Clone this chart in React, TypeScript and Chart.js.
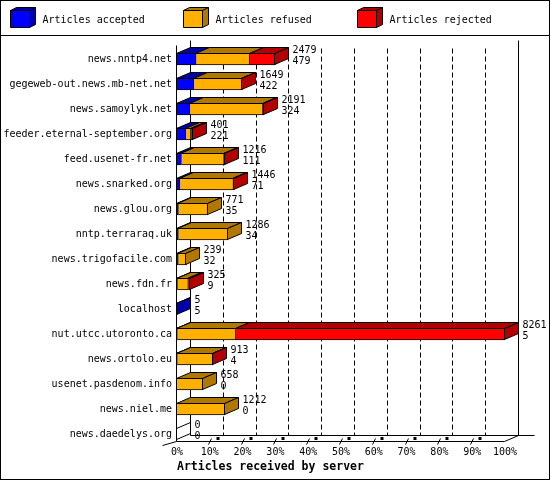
import { useEffect, useRef } from "react";
import { Chart, registerables } from "chart.js";

Chart.register(...registerables);

// servers, top to bottom
const servers = [
  "news.nntp4.net",
  "gegeweb-out.news.mb-net.net",
  "news.samoylyk.net",
  "feeder.eternal-september.org",
  "feed.usenet-fr.net",
  "news.snarked.org",
  "news.glou.org",
  "nntp.terraraq.uk",
  "news.trigofacile.com",
  "news.fdn.fr",
  "localhost",
  "nut.utcc.utoronto.ca",
  "news.ortolo.eu",
  "usenet.pasdenom.info",
  "news.niel.me",
  "news.daedelys.org",
];

const accepted = [479, 422, 324, 221, 111, 71, 35, 34, 32, 9, 5, 5, 4, 0, 0, 0];
const refused = [1350, 1212, 1842, 130, 1076, 1352, 736, 1252, 207, 277, 0, 1478, 898, 658, 1212, 0];
const rejected = [650, 15, 25, 50, 29, 23, 0, 0, 0, 39, 0, 6778, 11, 0, 0, 0];

const seriesLabels = ["Articles accepted", "Articles refused", "Articles rejected"];
const seriesColors = ["#0000ff", "#ffb000", "#ff0000"];
const seriesShades = ["#0000a8", "#b07800", "#b00000"];

const xTickPercents = [0, 10, 20, 30, 40, 50, 60, 70, 80, 90, 100];
const xTickLabels = ["0%", "10%", "20%", "30%", "40%", "50%", "60%", "70%", "80%", "90%", "100%"];
const xTitle = "Articles received by server";

const seriesValues = [accepted, refused, rejected];
const totals = servers.map((_, i) => accepted[i] + refused[i] + rejected[i]);
const maxTotal = Math.max(...totals);

const FAMILY = "'DejaVu Sans Mono', monospace";
const FONT = `10px ${FAMILY}`;
const DX = 14;
const DY = 6;

// snap to the pixel column/row the bar border sits on
const edge = (v: number) => Math.round(v) - 0.5;

function line(ctx: CanvasRenderingContext2D, x1: number, y1: number, x2: number, y2: number) {
  ctx.beginPath();
  ctx.moveTo(x1, y1);
  ctx.lineTo(x2, y2);
  ctx.stroke();
}

function face(ctx: CanvasRenderingContext2D, pts: number[][], fill: string | null) {
  ctx.beginPath();
  pts.forEach(([x, y], i) => (i ? ctx.lineTo(x, y) : ctx.moveTo(x, y)));
  ctx.closePath();
  if (fill) {
    ctx.fillStyle = fill;
    ctx.fill();
  }
  ctx.stroke();
}

const depthPlugin = {
  id: "depth",
  beforeDatasetsDraw(chart: any) {
    const { ctx, chartArea } = chart;
    const xs = chart.scales.x;
    const ys = chart.scales.y;
    const x0 = edge(chartArea.left);
    const x100 = edge(xs.getPixelForValue(maxTotal));
    const floorY = edge(ys.getPixelForValue(servers.length - 1) + 8);
    const backY = floorY - DY;
    const topY = edge(chartArea.top - 6);

    ctx.save();
    ctx.strokeStyle = "#000";
    ctx.lineWidth = 1;

    // dashed lines on the back wall
    ctx.setLineDash([5, 3]);
    xTickPercents.slice(1, -1).forEach((p) => {
      const px = edge(xs.getPixelForValue((p / 100) * maxTotal)) + DX;
      line(ctx, px, topY + 8, px, backY);
    });
    ctx.setLineDash([]);

    // back wall edges
    line(ctx, x0 + DX, topY, x0 + DX, backY);
    line(ctx, x100 + DX, topY, x100 + DX, backY);
    // front axis
    line(ctx, x0, topY + 5, x0, floorY);
    // floor
    line(ctx, x0 + DX, backY, x100 + DX + 16, backY);
    line(ctx, x0, floorY, x100, floorY);
    line(ctx, x100, floorY, x100 + DX, backY);
    line(ctx, x0 - DX, floorY + DY - 2, x0, floorY);

    // small floor marks
    xTickPercents.slice(1, -1).forEach((p) => {
      const px = edge(xs.getPixelForValue((p / 100) * maxTotal));
      line(ctx, px - 1, floorY + 3, px + 2, floorY - 3);
      ctx.fillStyle = "#000";
      ctx.fillRect(px + 7, floorY - 4.5, 3, 3);
    });
    ctx.restore();
  },
  afterDatasetsDraw(chart: any) {
    const { ctx } = chart;
    const xs = chart.scales.x;
    const ys = chart.scales.y;
    ctx.save();
    ctx.strokeStyle = "#000";
    ctx.lineWidth = 1;

    servers.forEach((_, i) => {
      const center = ys.getPixelForValue(i);
      const top = edge(center - 6) + 1;
      const bottom = edge(center + 6);
      let end = edge(xs.getPixelForValue(0));
      let last = -1;

      chart.data.datasets.forEach((ds: any, d: number) => {
        if (!ds.data[i]) return;
        const el = chart.getDatasetMeta(d).data[i];
        const { x, base } = el.getProps(["x", "base"], true);
        const a = edge(base);
        const b = edge(x);
        face(ctx, [[a, top], [a + DX, top - DY], [b + DX, top - DY], [b, top]], seriesShades[d]);
        end = b;
        last = d;
      });

      face(
        ctx,
        [[end, top], [end + DX, top - DY], [end + DX, bottom - DY], [end, bottom]],
        last >= 0 ? seriesShades[last] : null
      );

      ctx.fillStyle = "#000";
      ctx.font = FONT;
      ctx.textAlign = "left";
      ctx.textBaseline = "middle";
      ctx.fillText(String(totals[i]), end + DX + 4, center - 8.5);
      ctx.fillText(String(accepted[i]), end + DX + 4, center + 2.5);
    });
    ctx.restore();
  },
  afterDraw(chart: any) {
    const { ctx, width, height } = chart;
    ctx.save();
    ctx.strokeStyle = "#000";
    ctx.lineWidth = 1;
    ctx.strokeRect(0.5, 0.5, width - 1, height - 1);
    line(ctx, 0, 35.5, width, 35.5);

    // legend with little cubes
    const starts = [10, 183, 357];
    chart.data.datasets.forEach((ds: any, d: number) => {
      const x = starts[d] + 0.5;
      const t = 10.5;
      const b = 27.5;
      face(ctx, [[x, t], [x + 6, t - 3], [x + 25, t - 3], [x + 19, t]], seriesShades[d]);
      face(ctx, [[x + 19, t], [x + 25, t - 3], [x + 25, b - 3], [x + 19, b]], seriesShades[d]);
      face(ctx, [[x, t], [x + 19, t], [x + 19, b], [x, b]], seriesColors[d]);
      ctx.fillStyle = "#000";
      ctx.font = FONT;
      ctx.textAlign = "left";
      ctx.textBaseline = "middle";
      ctx.fillText(ds.label, x + 32, 20);
    });
    ctx.restore();
  },
};

export default function App() {
  const canvasRef = useRef<HTMLCanvasElement | null>(null);
  const chartRef = useRef<Chart | null>(null);

  useEffect(() => {
    document.body.style.margin = "0";
    if (!canvasRef.current) return;
    if (chartRef.current) chartRef.current.destroy();
    const ctx = canvasRef.current.getContext("2d");
    if (!ctx) return;

    chartRef.current = new Chart(ctx, {
      type: "bar",
      data: {
        labels: servers,
        datasets: seriesValues.map((data, d) => ({
          label: seriesLabels[d],
          data,
          backgroundColor: seriesColors[d],
          borderColor: "#000",
          borderWidth: 1,
          borderSkipped: "start",
          barThickness: 12,
        })),
      },
      options: {
        indexAxis: "y",
        responsive: false,
        animation: false,
        devicePixelRatio: 1,
        layout: { padding: { top: 46.5, left: 3, right: 45, bottom: 0 } },
        plugins: {
          legend: { display: false },
          tooltip: { enabled: false },
        },
        scales: {
          x: {
            stacked: true,
            min: 0,
            max: maxTotal,
            grid: { display: false, drawTicks: false },
            border: { display: false },
            afterBuildTicks: (s: any) => {
              s.ticks = xTickPercents.map((p) => ({ value: (p / 100) * maxTotal }));
            },
            afterFit: (s: any) => {
              s.height = 33.5;
            },
            ticks: {
              padding: 0,
              color: "#000",
              font: { family: FAMILY, size: 10 },
              maxRotation: 0,
              autoSkip: false,
              callback: (_v: any, i: number) => xTickLabels[i],
            },
            title: {
              display: true,
              text: xTitle,
              align: "start",
              color: "#000",
              font: { family: FAMILY, size: 11.5, weight: "bold" },
              padding: { top: 0, bottom: 6 },
            },
          },
          y: {
            stacked: true,
            grid: { display: false, drawTicks: false },
            border: { display: false },
            afterFit: (s: any) => {
              s.width = 174;
            },
            ticks: {
              padding: 5,
              color: "#000",
              font: { family: FAMILY, size: 10 },
              autoSkip: false,
            },
          },
        },
      } as any,
      plugins: [depthPlugin],
    });

    return () => {
      if (chartRef.current) {
        chartRef.current.destroy();
        chartRef.current = null;
      }
    };
  }, []);

  return (
    <div style={{ width: 550, height: 480 }}>
      <canvas ref={canvasRef} width={550} height={480} />
    </div>
  );
}
